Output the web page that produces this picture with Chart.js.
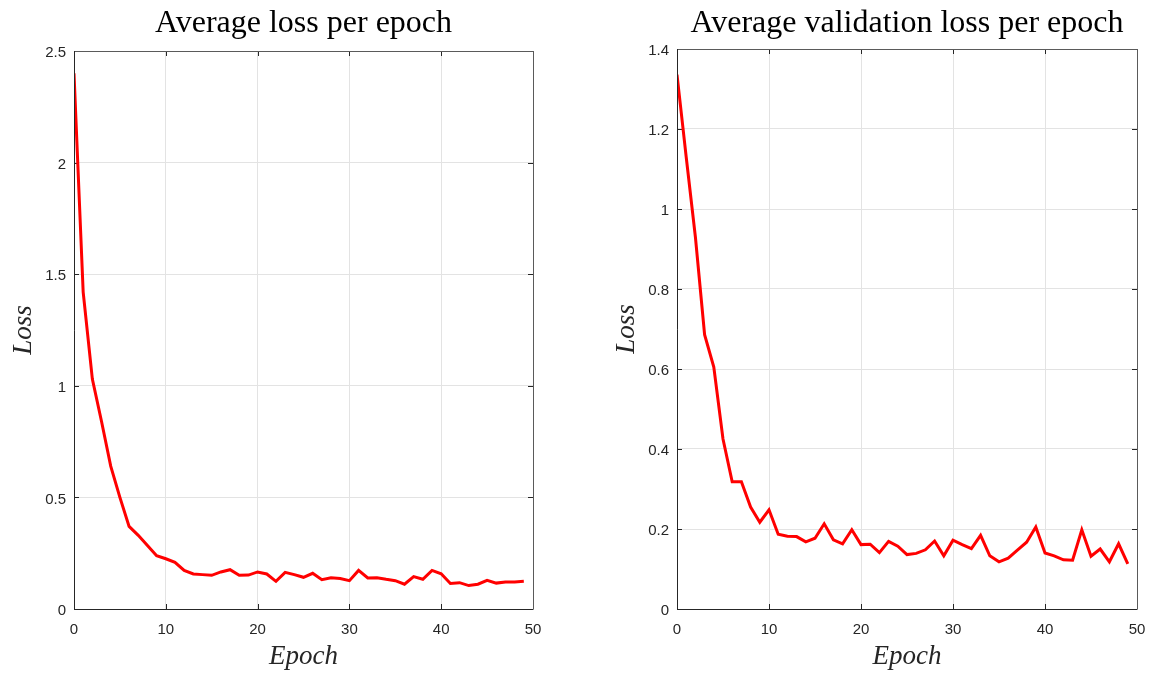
<!DOCTYPE html>
<html>
<head>
<meta charset="utf-8">
<script src="https://cdn.jsdelivr.net/npm/chart.js@4.4.1/dist/chart.umd.min.js"></script>
<style>
  html, body { margin: 0; padding: 0; background: #fff; }
  body { width: 1155px; height: 675px; position: relative; overflow: hidden; }
  canvas { position: absolute; top: 0; }
  #lossChart { left: 0; }
  #valChart { left: 578px; }
</style>
</head>
<body>
<canvas id="lossChart" width="578" height="675"></canvas>
<canvas id="valChart" width="577" height="675"></canvas>
<script>
// valores
const epochs = [0, 1, 2, 3, 4, 5, 6, 7, 8, 9, 10, 11, 12, 13, 14, 15, 16, 17, 18, 19,
  20, 21, 22, 23, 24, 25, 26, 27, 28, 29, 30, 31, 32, 33, 34, 35, 36, 37, 38, 39,
  40, 41, 42, 43, 44, 45, 46, 47, 48, 49];

const trainLoss = [2.40, 1.42, 1.03, 0.84, 0.64, 0.50, 0.37, 0.33, 0.284, 0.239,
  0.225, 0.209, 0.173, 0.157, 0.154, 0.151, 0.166, 0.176, 0.151, 0.152,
  0.166, 0.157, 0.124, 0.164, 0.154, 0.142, 0.160, 0.131, 0.140, 0.137,
  0.127, 0.173, 0.139, 0.140, 0.133, 0.127, 0.111, 0.145, 0.133, 0.173,
  0.158, 0.114, 0.118, 0.105, 0.111, 0.128, 0.116, 0.121, 0.121, 0.124];

const valLoss = [1.336, 1.13, 0.93, 0.686, 0.605, 0.425, 0.318, 0.318, 0.255, 0.217,
  0.248, 0.187, 0.182, 0.181, 0.168, 0.177, 0.213, 0.173, 0.163, 0.198,
  0.161, 0.162, 0.141, 0.169, 0.157, 0.136, 0.139, 0.148, 0.170, 0.133,
  0.172, 0.161, 0.151, 0.184, 0.133, 0.118, 0.127, 0.147, 0.167, 0.205,
  0.140, 0.133, 0.123, 0.122, 0.198, 0.132, 0.150, 0.118, 0.163, 0.113];

const xTicks = [0, 10, 20, 30, 40, 50];
const yTicksLoss = [0, 0.5, 1, 1.5, 2, 2.5];
const yTicksVal = [0, 0.2, 0.4, 0.6, 0.8, 1, 1.2, 1.4];

const AXIS = '#262626';
const GRID = '#e3e3e3';

// eixo estilo MATLAB: caixa, ticks para dentro, títulos em serifa
const matlabAxes = {
  id: 'matlabAxes',
  beforeDatasetsDraw(chart, args, opts) {
    const { ctx, chartArea: { left, right, top, bottom }, scales: { x, y } } = chart;
    ctx.save();
    ctx.lineWidth = 1;
    ctx.strokeStyle = AXIS;
    ctx.beginPath();
    x.ticks.forEach(t => {
      const px = Math.round(x.getPixelForValue(t.value)) + 0.5;
      ctx.moveTo(px, bottom); ctx.lineTo(px, bottom - 5);
      ctx.moveTo(px, top); ctx.lineTo(px, top + 5);
    });
    y.ticks.forEach(t => {
      const py = Math.round(y.getPixelForValue(t.value)) + 0.5;
      ctx.moveTo(left, py); ctx.lineTo(left + 5, py);
      ctx.moveTo(right, py); ctx.lineTo(right - 5, py);
    });
    ctx.stroke();
    ctx.restore();
  },
  afterDraw(chart, args, opts) {
    const { ctx, chartArea: { left, right, top, bottom } } = chart;
    ctx.save();
    ctx.lineWidth = 1;
    ctx.strokeStyle = '#5a5a5a';
    ctx.beginPath();
    ctx.moveTo(left, top + 0.5); ctx.lineTo(right + 0.5, top + 0.5);
    ctx.moveTo(right + 0.5, top); ctx.lineTo(right + 0.5, bottom);
    ctx.stroke();
    ctx.strokeStyle = AXIS;
    ctx.beginPath();
    ctx.moveTo(left + 0.5, top); ctx.lineTo(left + 0.5, bottom + 0.5);
    ctx.lineTo(right + 0.5, bottom + 0.5);
    ctx.stroke();

    const cx = (left + right) / 2;
    ctx.fillStyle = '#000';
    ctx.textAlign = 'center';
    ctx.textBaseline = 'alphabetic';
    ctx.font = '32px "Liberation Serif"';
    ctx.fillText(opts.title, cx, 32);

    ctx.fillStyle = AXIS;
    ctx.font = 'italic 27px "Liberation Serif"';
    ctx.fillText('Epoch', cx, 664);

    ctx.translate(left - 43, (top + bottom) / 2);
    ctx.rotate(-Math.PI / 2);
    ctx.fillText('Loss', 0, 0);
    ctx.restore();
  }
};

function makeChart(id, data, yMax, yTicks, title, pad, yWidth) {
  const tickFont = { family: '"Liberation Sans", Arial', size: 15 };
  return new Chart(document.getElementById(id), {
    type: 'line',
    data: {
      datasets: [{
        data: epochs.map((e, i) => ({ x: e, y: data[i] })),
        borderColor: '#ff0000',
        borderWidth: 3,
        pointRadius: 0,
        tension: 0,
        fill: false
      }]
    },
    options: {
      responsive: false,
      animation: false,
      devicePixelRatio: 1,
      layout: { padding: pad },
      plugins: {
        legend: { display: false },
        tooltip: { enabled: false },
        matlabAxes: { title: title }
      },
      scales: {
        x: {
          type: 'linear', min: 0, max: 50,
          afterBuildTicks: s => { s.ticks = xTicks.map(v => ({ value: v })); },
          afterFit: s => { s.height = 66; },
          ticks: { color: AXIS, font: { ...tickFont, lineHeight: 2 }, padding: 6, maxRotation: 0 },
          grid: { color: GRID, drawTicks: false },
          border: { display: false }
        },
        y: {
          type: 'linear', min: 0, max: yMax,
          afterBuildTicks: s => { s.ticks = yTicks.map(v => ({ value: v })); },
          afterFit: s => { s.width = yWidth; },
          ticks: { color: AXIS, font: tickFont, padding: 8, labelOffset: 2, callback: v => String(v) },
          grid: { color: GRID, drawTicks: false },
          border: { display: false }
        }
      }
    },
    plugins: [matlabAxes]
  });
}

makeChart('lossChart', trainLoss, 2.5, yTicksLoss, 'Average loss per epoch',
  { top: 51, right: 45, bottom: 0, left: 0 }, 74);
makeChart('valChart', valLoss, 1.4, yTicksVal, 'Average validation loss per epoch',
  { top: 49, right: 18, bottom: 0, left: 0 }, 99);
</script>
</body>
</html>
